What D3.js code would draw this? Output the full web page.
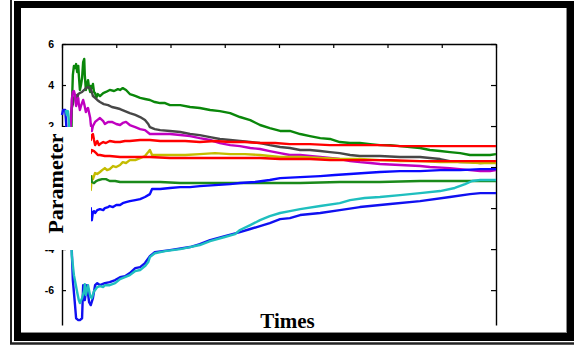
<!DOCTYPE html>
<html>
<head>
<meta charset="utf-8">
<script src="https://cdn.jsdelivr.net/npm/d3@7"></script>
<style>
  html, body { margin: 0; padding: 0; background: #fff; }
  svg { display: block; }
</style>
</head>
<body>
<svg id="chart" width="574" height="347"></svg>
<script>
// Parameter trajectories over time, each as [time, value] pairs.
const greenUpper = [[17,0.83],[18,2.78],[20,4.49],[22,4.93],[24,4.83],[26,5.02],[28,4.63],[30,4.93],[31,4.49],[33,3.76],[35,4.0],[37,4.34],[39,5.12],[41,5.27],[42,4.49],[44,3.76],[46,4.0],[48,4.24],[50,3.85],[52,3.66],[53,3.95],[55,3.85],[57,4.05],[59,3.66],[61,3.61],[63,3.37],[66,3.56],[70,3.46],[76,3.61],[81,3.66],[88,3.76],[96,3.71],[103,3.8],[107,3.76],[112,3.85],[118,3.76],[125,3.56],[131,3.51],[136,3.46],[144,3.37],[153,3.32],[162,3.27],[171,3.17],[181,3.12],[190,3.12],[199,3.02],[218,3.02],[236,2.93],[254,2.88],[273,2.78],[291,2.73],[310,2.63],[328,2.44],[347,2.29],[365,2.05],[383,1.9],[402,1.76],[420,1.76],[439,1.61],[457,1.51],[476,1.41],[494,1.37],[512,1.22],[531,1.17],[549,1.17],[568,1.12],[586,1.07],[605,1.07],[623,1.02],[641,0.98],[660,0.93],[678,0.83],[697,0.78],[715,0.73],[734,0.68],[752,0.59],[771,0.59],[789,0.59],[800,0.63]];

const greySeries = [[13,0.83],[15,2.05],[17,2.68],[18,2.88],[20,3.07],[22,3.37],[24,3.46],[26,3.51],[28,3.32],[30,3.56],[33,3.61],[37,3.66],[41,3.76],[44,3.85],[48,3.9],[52,3.85],[55,3.66],[57,3.46],[61,3.37],[65,3.27],[70,3.17],[77,3.07],[85,3.02],[92,2.93],[100,2.88],[107,2.83],[116,2.73],[125,2.63],[135,2.54],[144,2.44],[153,2.29],[159,2.1],[162,1.95],[171,1.85],[181,1.8],[199,1.76],[218,1.71],[236,1.61],[254,1.56],[273,1.46],[291,1.37],[310,1.32],[328,1.27],[347,1.22],[365,1.17],[383,1.07],[402,0.98],[420,0.93],[439,0.83],[457,0.83],[476,0.78],[494,0.73],[512,0.68],[531,0.59],[549,0.54],[586,0.54],[623,0.49],[660,0.49],[678,0.44],[697,0.39],[715,0.29],[734,0.24],[752,0.24],[771,0.2],[800,0.24]];

const magentaSeries = [[15,1.56],[17,2.39],[18,3.27],[20,3.66],[22,3.71],[24,3.51],[26,2.98],[28,3.27],[30,3.37],[31,3.07],[33,2.78],[35,2.98],[39,3.27],[41,3.07],[44,2.68],[46,2.83],[48,2.88],[50,2.63],[52,2.39],[53,2.1],[55,1.76],[57,2.0],[61,2.2],[65,2.29],[70,2.39],[76,2.24],[79,2.1],[85,2.2],[92,2.2],[100,2.1],[107,2.05],[112,2.15],[118,2.2],[125,2.05],[135,1.95],[144,1.85],[153,1.8],[162,1.61],[181,1.61],[199,1.61],[218,1.56],[236,1.51],[254,1.41],[273,1.32],[291,1.17],[310,1.07],[328,1.02],[347,0.93],[365,0.88],[383,0.78],[402,0.68],[420,0.59],[439,0.59],[457,0.54],[476,0.49],[494,0.44],[512,0.39],[531,0.29],[549,0.24],[568,0.2],[586,0.15],[623,0.1],[660,0.05],[678,0],[715,-0.05],[752,-0.15],[771,-0.2],[789,-0.2],[800,-0.15]];

const yellowSeries = [[48,-0.88],[53,-1.12],[55,-0.44],[57,-0.59],[61,-0.29],[65,-0.34],[70,-0.24],[74,-0.15],[79,-0.05],[83,-0.15],[88,-0.1],[94,0.05],[100,0],[107,0.1],[112,0.24],[118,0.2],[125,0.34],[135,0.34],[144,0.44],[153,0.54],[159,0.73],[162,0.83],[166,0.59],[181,0.59],[199,0.59],[227,0.59],[254,0.63],[282,0.68],[310,0.63],[337,0.63],[365,0.59],[383,0.54],[402,0.49],[439,0.49],[476,0.44],[512,0.39],[549,0.39],[586,0.34],[623,0.29],[660,0.29],[697,0.24],[734,0.24],[771,0.2],[800,0.2]];

const redLower = [[48,0.59],[53,0.68],[55,0.83],[59,0.78],[63,0.68],[66,0.59],[70,0.59],[79,0.54],[88,0.54],[107,0.49],[125,0.49],[144,0.49],[162,0.49],[199,0.44],[254,0.44],[310,0.44],[365,0.44],[402,0.39],[457,0.39],[494,0.34],[549,0.34],[605,0.34],[660,0.29],[734,0.29],[800,0.29]];

const redUpper = [[48,1.22],[53,1.32],[55,1.56],[57,1.61],[59,1.32],[61,1.07],[63,1.17],[65,1.27],[68,1.07],[70,1.12],[76,1.22],[81,1.17],[88,1.27],[98,1.22],[107,1.22],[116,1.27],[125,1.27],[144,1.32],[162,1.32],[181,1.27],[199,1.27],[227,1.27],[254,1.22],[282,1.27],[310,1.22],[337,1.22],[365,1.17],[393,1.17],[420,1.12],[457,1.12],[494,1.07],[522,1.07],[549,1.07],[586,1.07],[623,1.02],[678,1.02],[734,1.02],[800,1.02]];

const greenLower = [[48,-0.73],[53,-0.44],[55,-0.73],[59,-0.78],[63,-0.68],[68,-0.63],[74,-0.59],[81,-0.59],[88,-0.68],[98,-0.68],[107,-0.73],[125,-0.73],[153,-0.73],[181,-0.73],[218,-0.78],[273,-0.78],[328,-0.78],[383,-0.78],[439,-0.78],[512,-0.73],[586,-0.73],[660,-0.68],[715,-0.68],[800,-0.68]];

const blueMiddle = [[48,-2.1],[53,-2.0],[55,-2.59],[57,-2.2],[59,-2.15],[61,-2.24],[65,-2.1],[70,-2.05],[76,-2.1],[79,-2.0],[85,-1.95],[88,-1.9],[94,-1.95],[100,-1.85],[107,-1.85],[112,-1.76],[118,-1.71],[125,-1.66],[135,-1.61],[144,-1.56],[153,-1.46],[162,-1.32],[166,-1.07],[181,-1.07],[199,-1.02],[218,-0.98],[236,-0.98],[254,-0.93],[282,-0.88],[310,-0.83],[328,-0.78],[356,-0.73],[383,-0.63],[402,-0.54],[439,-0.49],[476,-0.44],[503,-0.39],[531,-0.34],[558,-0.29],[586,-0.24],[623,-0.2],[660,-0.2],[697,-0.15],[734,-0.15],[771,-0.1],[800,-0.1]];

const blueLower = [[0,2.54],[2,2.78],[6,2.78],[7,2.39],[11,0.83],[15,-1.61],[18,-4.05],[20,-5.51],[24,-6.73],[26,-7.37],[30,-7.46],[33,-7.46],[37,-7.37],[39,-5.76],[42,-6.49],[46,-5.76],[50,-6.59],[53,-6.73],[57,-6.39],[61,-5.76],[65,-5.66],[70,-5.76],[79,-5.66],[88,-5.61],[98,-5.51],[107,-5.37],[116,-5.32],[125,-5.17],[135,-4.93],[144,-4.88],[153,-4.68],[162,-4.34],[171,-4.15],[199,-4.05],[236,-3.9],[254,-3.76],[273,-3.56],[300,-3.37],[328,-3.17],[347,-3.02],[365,-2.88],[383,-2.73],[402,-2.54],[420,-2.49],[439,-2.34],[476,-2.24],[512,-2.1],[549,-1.95],[605,-1.8],[660,-1.66],[715,-1.46],[752,-1.32],[771,-1.27],[800,-1.27]];

const cyanSeries = [[7,2.78],[9,2.54],[11,2.73],[13,2.05],[15,0.34],[17,-2.59],[18,-4.29],[22,-5.27],[28,-6.1],[31,-6.49],[33,-6.63],[37,-6.39],[41,-6.0],[42,-5.71],[44,-6.24],[48,-5.76],[52,-6.29],[55,-6.39],[59,-6.05],[61,-6.0],[65,-5.85],[70,-5.8],[76,-5.85],[79,-5.76],[88,-5.76],[98,-5.66],[107,-5.46],[116,-5.37],[125,-5.27],[135,-5.07],[144,-5.02],[153,-4.83],[159,-4.63],[162,-4.39],[171,-4.2],[190,-4.1],[218,-4.0],[236,-3.9],[254,-3.8],[273,-3.61],[300,-3.41],[319,-3.27],[328,-3.07],[347,-2.83],[365,-2.59],[383,-2.39],[402,-2.24],[420,-2.15],[439,-2.05],[476,-1.9],[512,-1.76],[531,-1.61],[558,-1.51],[586,-1.46],[623,-1.37],[660,-1.27],[697,-1.17],[724,-1.02],[743,-0.83],[756,-0.68],[771,-0.63],[800,-0.63]];

const seriesList = [greenUpper, greySeries, magentaSeries, yellowSeries, redLower, redUpper, greenLower, blueMiddle, blueLower, cyanSeries];
const seriesColors = ["#0a870a", "#474747", "#c000c0", "#c4bc00", "#ff0000", "#ff0000", "#1a8a1a", "#0a0aff", "#1010f0", "#1fbfbf"];

const yTicks = [-6, -4, -2, 0, 2, 4, 6];
const xTicks = [0, 100, 200, 300, 400, 500, 600, 700, 800];
const xLabel = "Times";
const yLabel = "Parameter";

const svg = d3.select("#chart");

// Double border: thin outer rule, heavy black frame, white panel
svg.append("line").attr("x1", 11).attr("y1", 0).attr("x2", 11).attr("y2", 344)
  .attr("stroke", "#222").attr("stroke-width", 2);
svg.append("line").attr("x1", 10).attr("y1", 343.5).attr("x2", 574).attr("y2", 343.5)
  .attr("stroke", "#222").attr("stroke-width", 2.5);
svg.append("rect").attr("x", 14).attr("y", 1).attr("width", 600).attr("height", 340).attr("fill", "#000");
svg.append("rect").attr("x", 21).attr("y", 8).attr("width", 546).attr("height", 325).attr("fill", "#fff");
svg.append("line").attr("x1", 566.5).attr("y1", 8).attr("x2", 566.5).attr("y2", 333)
  .attr("stroke", "#8a8a8a").attr("stroke-width", 1);
svg.append("line").attr("x1", 21).attr("y1", 332.5).attr("x2", 567).attr("y2", 332.5)
  .attr("stroke", "#8a8a8a").attr("stroke-width", 1);

const plot = { left: 62, right: 496, top: 44, bottom: 325 };

const x = d3.scaleLinear().domain([0, 800]).range([plot.left, plot.right]);
const y = d3.scaleLinear().domain([-7.7, 6]).range([plot.bottom, plot.top]);

const axisStyle = g => {
  g.selectAll("path.domain").attr("stroke", "#000").attr("stroke-width", 1.4);
  g.selectAll(".tick line").attr("stroke", "#000").attr("stroke-width", 1.2);
};

// Top edge with inward ticks
svg.append("g").attr("transform", `translate(0,${plot.top})`)
  .call(d3.axisTop(x).tickValues(xTicks).tickSize(-4).tickSizeOuter(0).tickFormat(""))
  .call(axisStyle);

// Right edge with inward ticks
svg.append("g").attr("transform", `translate(${plot.right},0)`)
  .call(d3.axisLeft(y).tickValues(yTicks).tickSize(5).tickSizeOuter(0).tickFormat(""))
  .call(axisStyle);

// Left edge with inward ticks and labels
const leftAxis = svg.append("g").attr("transform", `translate(${plot.left},0)`)
  .call(d3.axisLeft(y).tickValues(yTicks).tickSize(-4).tickSizeOuter(0).tickPadding(8)
    .tickFormat(d => String(d)))
  .call(axisStyle);
leftAxis.selectAll(".tick text")
  .attr("font-family", "'Liberation Sans', Arial, sans-serif")
  .attr("font-weight", "bold").attr("font-size", 10.5).attr("fill", "#000");

// Trajectories
const line = d3.line().x(d => x(d[0])).y(d => y(d[1]));
svg.append("g").selectAll("path").data(seriesList).join("path")
  .attr("d", line)
  .attr("fill", "none")
  .attr("stroke", (d, i) => seriesColors[i])
  .attr("stroke-width", 2.4)
  .attr("stroke-linejoin", "round");

// Y-axis title on its own white backing
svg.append("rect").attr("x", 36).attr("y", 127).attr("width", 55).attr("height", 123).attr("fill", "#fff");
svg.append("text")
  .attr("transform", "translate(63,183.5) rotate(-90)")
  .attr("text-anchor", "middle")
  .attr("font-family", "'Liberation Serif', 'Times New Roman', serif")
  .attr("font-weight", "bold").attr("font-size", 22).attr("fill", "#000")
  .text(yLabel);

// X-axis title
svg.append("text")
  .attr("x", 287.5).attr("y", 328)
  .attr("text-anchor", "middle")
  .attr("font-family", "'Liberation Serif', 'Times New Roman', serif")
  .attr("font-weight", "bold").attr("font-size", 21).attr("fill", "#000")
  .text(xLabel);
</script>
</body>
</html>
